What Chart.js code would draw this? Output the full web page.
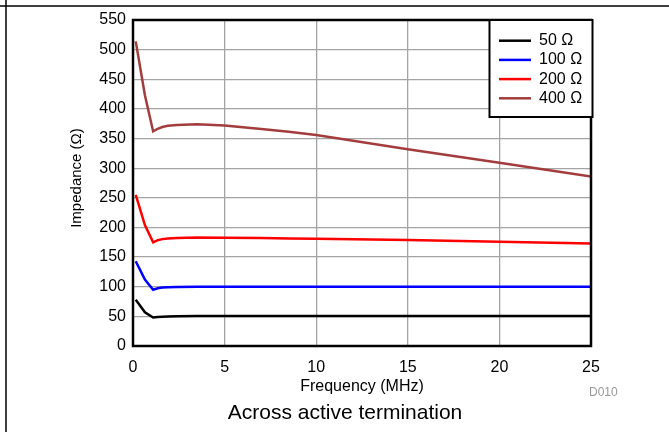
<!DOCTYPE html>
<html>
<head>
<meta charset="utf-8">
<script src="https://cdn.jsdelivr.net/npm/chart.js@4"></script>
<style>
    body { margin: 0; background: #fff; }
    #wrap { width: 669px; height: 432px; }
</style>
</head>
<body>
<div id="wrap"><canvas id="myChart" width="669" height="432"></canvas></div>
<script>
// Data
const freqMHz = [0.15, 0.65, 1.1, 1.35, 1.6, 1.9, 2.4, 3.5, 5, 7, 8.5, 10, 15, 20, 25];
const imp50 = [78, 57, 48, 48.8, 49.4, 49.8, 50, 50.5, 50.5, 50.5, 50.5, 50.5, 50.5, 50.5, 50.5];
const imp100 = [143, 112, 95, 97.3, 98.5, 99.2, 99.7, 100, 100, 100, 100, 100, 100, 100, 100];
const imp200 = [255, 204, 175, 178.5, 180.3, 181.3, 182.2, 183, 182.5, 182, 181.5, 181, 179, 176, 173];
const imp400 = [514, 423, 362, 366.5, 369.5, 371.5, 373, 374, 372, 366, 361.5, 356, 332, 309, 286];
const seriesLabels = ['50 Ω', '100 Ω', '200 Ω', '400 Ω'];
const seriesColors = ['#000000', '#0000ff', '#ff0000', '#a33d3d'];
const xTicks = [0, 5, 10, 15, 20, 25];
const yTicks = [0, 50, 100, 150, 200, 250, 300, 350, 400, 450, 500, 550];

const FONT = 'Liberation Sans, Arial, sans-serif';

function toPoints(ys) {
    return freqMHz.map((f, i) => ({ x: f, y: ys[i] }));
}

const allSeries = [imp50, imp100, imp200, imp400];

// frame, plot border, legend and caption
const extras = {
    id: 'extras',
    afterDraw(chart) {
        const ctx = chart.ctx;
        const a = chart.chartArea;
        ctx.save();

        // outer frame lines
        ctx.strokeStyle = '#000';
        ctx.lineWidth = 1.5;
        ctx.beginPath();
        ctx.moveTo(0, 6); ctx.lineTo(669, 6);
        ctx.moveTo(6, 0); ctx.lineTo(6, 432);
        ctx.stroke();

        // plot border
        ctx.lineWidth = 2.5;
        ctx.strokeRect(a.left, a.top, a.right - a.left, a.bottom - a.top);

        // legend box
        const bx = 489.5, by = 20, bw = 103, bh = 97;
        ctx.fillStyle = '#fff';
        ctx.fillRect(bx, by, bw, bh);
        ctx.lineWidth = 2;
        ctx.strokeStyle = '#000';
        ctx.strokeRect(bx, by, bw, bh);
        ctx.font = '16px ' + FONT;
        ctx.textBaseline = 'middle';
        ctx.textAlign = 'left';
        chart.data.datasets.forEach((ds, i) => {
            const ry = 40.7 + i * 19.2;
            ctx.strokeStyle = ds.borderColor;
            ctx.lineWidth = 2.5;
            ctx.beginPath();
            ctx.moveTo(499, ry); ctx.lineTo(531, ry);
            ctx.stroke();
            ctx.fillStyle = '#000';
            ctx.fillText(ds.label, 539, ry);
        });

        // D010 tag
        ctx.fillStyle = '#999';
        ctx.font = '12px ' + FONT;
        ctx.textAlign = 'left';
        ctx.fillText('D010', 589, 393);

        // caption
        ctx.fillStyle = '#000';
        ctx.font = '21px ' + FONT;
        ctx.textAlign = 'center';
        ctx.fillText('Across active termination', 345, 413);

        // y axis title
        ctx.font = '15px ' + FONT;
        ctx.translate(77, 178);
        ctx.rotate(-Math.PI / 2);
        ctx.fillText('Impedance (Ω)', 0, 0);
        ctx.restore();
    }
};

const ctx = document.getElementById('myChart').getContext('2d');
new Chart(ctx, {
    type: 'line',
    data: {
        datasets: allSeries.map((ys, i) => ({
            label: seriesLabels[i],
            data: toPoints(ys),
            borderColor: seriesColors[i],
            backgroundColor: seriesColors[i],
            borderWidth: 2.5,
            pointRadius: 0,
            tension: 0,
            fill: false
        }))
    },
    options: {
        responsive: false,
        animation: false,
        layout: { padding: { top: 20, right: 78, left: 0, bottom: 36 } },
        plugins: {
            legend: { display: false },
            tooltip: { enabled: false }
        },
        scales: {
            x: {
                type: 'linear',
                min: 0,
                max: 25,
                afterBuildTicks: s => { s.ticks = xTicks.map(v => ({ value: v })); },
                afterFit: s => { s.height = 50; },
                grid: { color: '#a4a4a4', lineWidth: 1.3, drawTicks: false },
                border: { display: false },
                ticks: { color: '#000', padding: 12, font: { family: FONT, size: 16 } },
                title: {
                    display: true,
                    text: 'Frequency (MHz)',
                    color: '#000',
                    font: { family: FONT, size: 16 },
                    padding: { top: 0, bottom: 0 }
                }
            },
            y: {
                min: 0,
                max: 550,
                afterBuildTicks: s => { s.ticks = yTicks.map(v => ({ value: v })); },
                afterFit: s => { s.width = 133; },
                grid: { color: '#a4a4a4', lineWidth: 1.3, drawTicks: false },
                border: { display: false },
                ticks: { color: '#000', padding: 7, font: { family: FONT, size: 16 } }
            }
        }
    },
    plugins: [extras]
});
</script>
</body>
</html>
